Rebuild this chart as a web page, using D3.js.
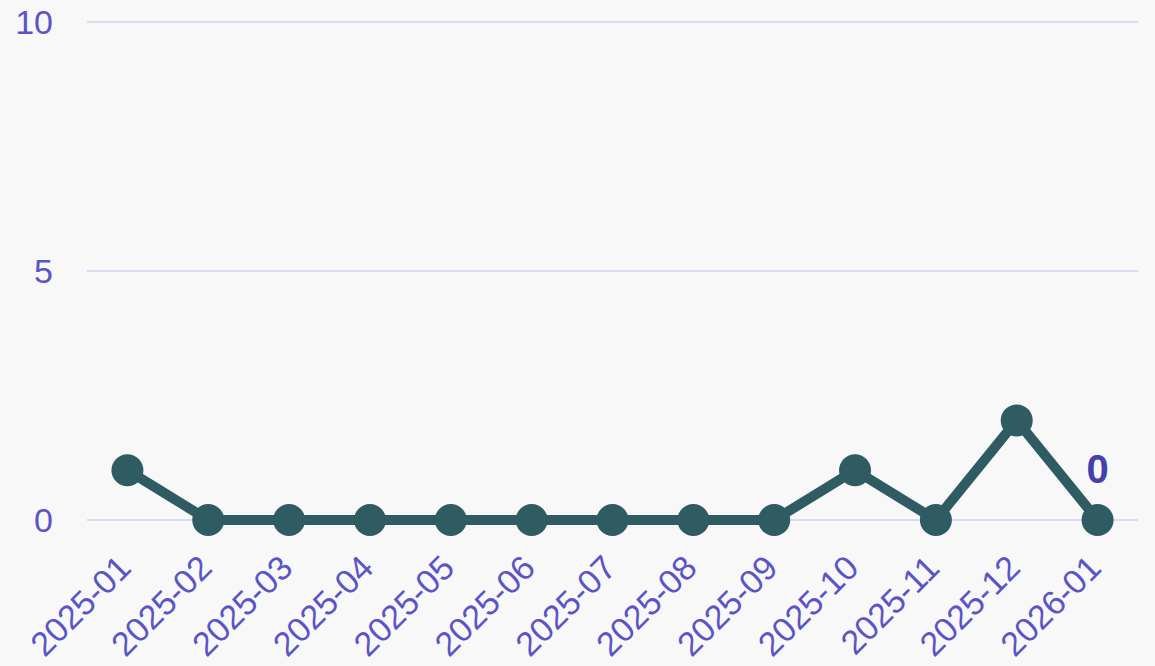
<!DOCTYPE html>
<html>
<head>
<meta charset="utf-8">
<script src="https://cdn.jsdelivr.net/npm/d3@7"></script>
<style>
  body { margin: 0; background: #f8f8f8; }
  svg { display: block; font-family: 'Liberation Sans', Arial, sans-serif; }
</style>
</head>
<body>
<script>
// chart values
var months = ['2025-01', '2025-02', '2025-03', '2025-04', '2025-05', '2025-06', '2025-07',
  '2025-08', '2025-09', '2025-10', '2025-11', '2025-12', '2026-01']
var counts = [1, 0, 0, 0, 0, 0, 0, 0, 0, 1, 0, 2, 0]
var yTicks = [0, 5, 10]

var W = 1155, H = 666
var margin = {top: 22, right: 17, bottom: 146, left: 87}
var width = W - margin.left - margin.right,
  height = H - margin.top - margin.bottom

var svg = d3.select('body').append('svg')
  .attr('width', W)
  .attr('height', H)

svg.append('rect').attr('width', W).attr('height', H).attr('fill', '#f8f8f8')

var g = svg.append('g')
  .attr('transform', 'translate(' + margin.left + ',' + margin.top + ')')

var x = d3.scalePoint()
  .domain(months)
  .range([0, width])
  .padding(0.5)

var y = d3.scaleLinear()
  .domain([0, 10])
  .range([height, 0])

// gridlines
g.selectAll('.grid')
  .data(yTicks)
  .enter().append('line')
  .attr('x1', 0)
  .attr('x2', width)
  .attr('y1', function (d) { return y(d) })
  .attr('y2', function (d) { return y(d) })
  .attr('stroke', '#dcdaf2')
  .attr('stroke-width', 2)

// y axis labels
var yAxis = g.append('g')
  .call(d3.axisLeft(y).tickValues(yTicks).tickSize(0).tickPadding(34))
yAxis.select('.domain').remove()
yAxis.selectAll('text')
  .attr('fill', '#5a55c6')
  .attr('dy', '0.34em')
  .style('font-size', '34px')
  .style('font-family', "'Liberation Sans', Arial, sans-serif")

// x axis labels
var xAxis = g.append('g')
  .attr('transform', 'translate(0,' + height + ')')
  .call(d3.axisBottom(x).tickSize(0).tickPadding(0))
xAxis.select('.domain').remove()
xAxis.selectAll('text')
  .attr('fill', '#5a55c6')
  .attr('y', 0)
  .attr('dy', 0)
  .style('font-size', '34px')
  .style('font-family', "'Liberation Sans', Arial, sans-serif")
  .style('text-anchor', 'end')
  .attr('transform', 'translate(5,50) rotate(-45)')

// line
var line = d3.line()
  .x(function (d, i) { return x(months[i]) })
  .y(function (d) { return y(d) })

g.append('path')
  .datum(counts)
  .attr('fill', 'none')
  .attr('stroke', '#2f5b63')
  .attr('stroke-width', 10)
  .attr('stroke-linejoin', 'round')
  .attr('d', line)

// dots
g.selectAll('.dot')
  .data(counts)
  .enter().append('circle')
  .attr('r', 16)
  .attr('cx', function (d, i) { return x(months[i]) })
  .attr('cy', function (d) { return y(d) })
  .attr('fill', '#2f5b63')

// last value label
var last = counts.length - 1
g.append('text')
  .attr('x', x(months[last]))
  .attr('y', y(counts[last]) - 37)
  .attr('text-anchor', 'middle')
  .attr('fill', '#4540aa')
  .style('font-size', '40px')
  .style('font-weight', 'bold')
  .text(counts[last])
</script>
</body>
</html>
